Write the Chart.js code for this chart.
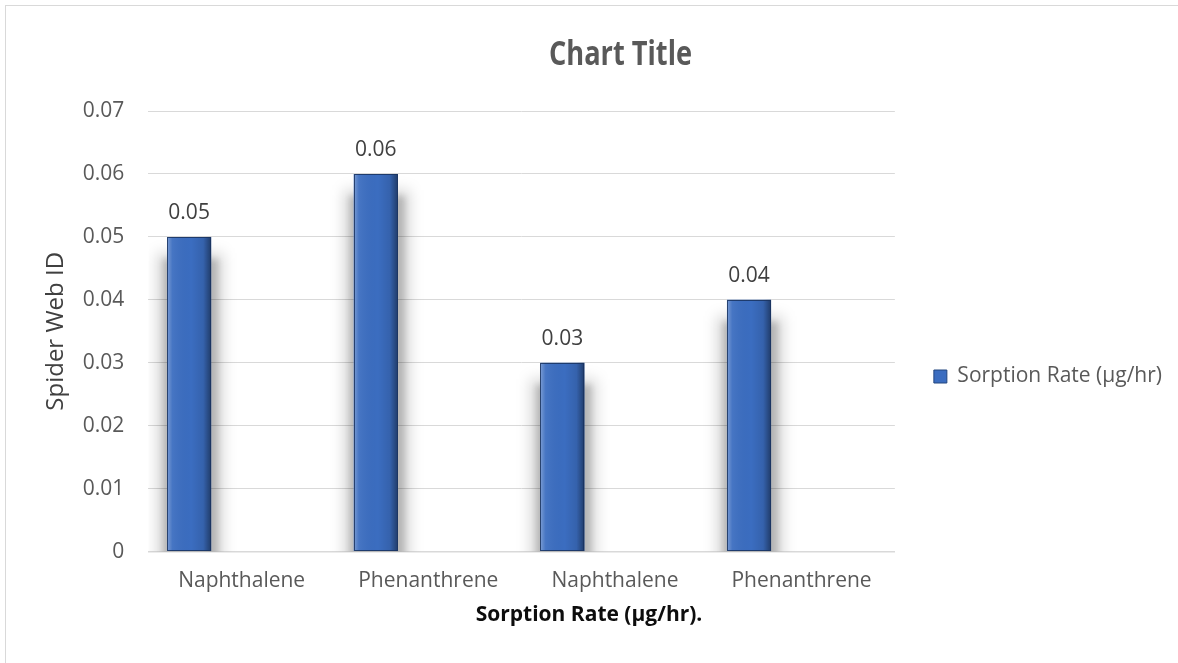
<!DOCTYPE html>
<html>
<head>
<meta charset="utf-8">
<script src="https://cdn.jsdelivr.net/npm/chart.js@4.4.1/dist/chart.umd.min.js"></script>
<style>
  html, body { margin: 0; padding: 0; background: #ffffff; overflow: hidden; }
  #clip { position: absolute; left: 0; top: 0; width: 1178px; height: 663px; overflow: hidden; }
  #frame { position: absolute; left: 5px; top: 5px; width: 1230px; height: 700px;
           border-top: 1px solid #d9d9d9; border-left: 1px solid #d9d9d9; }
  canvas { display: block; }
</style>
</head>
<body>
<div id="clip"><div id="frame"><canvas id="sorptionChart" width="1229" height="657"></canvas></div></div>
<script>
// ── Data ── //
const chartTitle = 'Chart Title';
const categories = ['Naphthalene', 'Phenanthrene', 'Naphthalene', 'Phenanthrene'];
const sorptionRates = [0.05, 0.06, 0.03, 0.04];
const blankSeries = [null, null, null, null]; // empty 2nd series, keeps bars on the left of each slot
const yTickValues = [0, 0.01, 0.02, 0.03, 0.04, 0.05, 0.06, 0.07];
const seriesLabel = 'Sorption Rate (µg/hr)';
const xAxisTitle = 'Sorption Rate (µg/hr).';
const yAxisTitle = 'Spider Web ID';

const FONT = "'Open Sans', 'Noto Sans', sans-serif";
Chart.defaults.font.family = FONT;

// ── Blurred halo behind bars, then shading, outline + value labels ── //
const barStylePlugin = {
  id: 'barStyle',
  beforeDatasetsDraw(chart) {
    const c = chart.ctx;
    const area = chart.chartArea;
    const meta = chart.getDatasetMeta(0);
    c.save();
    c.beginPath();
    c.rect(area.left, area.top, area.right - area.left, area.bottom - area.top);
    c.clip();
    meta.data.forEach((bar) => {
      const { x, y, base, width } = bar.getProps(['x', 'y', 'base', 'width'], true);
      const left = x - width / 2;
      c.filter = 'blur(7px)';
      c.fillStyle = 'rgba(0, 0, 0, 0.16)';
      c.fillRect(left - 10, y + 16, width + 22, base - y);
      c.filter = 'blur(3px)';
      c.fillStyle = 'rgba(0, 0, 0, 0.16)';
      c.fillRect(left - 4, y + 22, width + 11, base - y);
    });
    c.filter = 'none';
    c.restore();
  },
  afterDatasetsDraw(chart) {
    const c = chart.ctx;
    const meta = chart.getDatasetMeta(0);
    meta.data.forEach((bar, i) => {
      const { x, y, base, width } = bar.getProps(['x', 'y', 'base', 'width'], true);
      const left = x - width / 2;
      const g = c.createLinearGradient(left, 0, left + width, 0);
      g.addColorStop(0, 'rgba(255, 255, 255, 0.32)');
      g.addColorStop(0.12, 'rgba(255, 255, 255, 0.06)');
      g.addColorStop(0.55, 'rgba(0, 0, 0, 0)');
      g.addColorStop(0.82, 'rgba(0, 0, 0, 0.10)');
      g.addColorStop(1, 'rgba(0, 0, 0, 0.45)');
      c.save();
      c.fillStyle = g;
      c.fillRect(left, y, width, base - y);
      c.strokeStyle = 'rgba(25, 50, 95, 0.85)';
      c.lineWidth = 1;
      c.strokeRect(Math.round(left) + 0.5, Math.round(y) + 0.5, Math.round(width) - 1, Math.round(base - y) - 1);
      c.restore();

      // value label
      c.save();
      c.font = `21px ${FONT}`;
      c.fillStyle = '#404040';
      c.textAlign = 'center';
      c.textBaseline = 'alphabetic';
      c.fillText(sorptionRates[i].toFixed(2), x, y - 18);
      c.restore();
    });
  },
  afterDraw(chart) {
    // chart title, narrowed to resemble the original face
    const c = chart.ctx;
    c.save();
    c.translate(chart.width / 2, 59);
    c.scale(0.8, 1);
    c.font = `bold 34px ${FONT}`;
    c.fillStyle = '#595959';
    c.textAlign = 'center';
    c.textBaseline = 'alphabetic';
    c.fillText(chartTitle, 0, 0);
    c.restore();
  },
};

new Chart(document.getElementById('sorptionChart'), {
  type: 'bar',
  data: {
    labels: categories,
    datasets: [
      {
        label: seriesLabel,
        data: sorptionRates,
        backgroundColor: '#3b6dc0',
        borderColor: '#23467f',
        borderWidth: 0,
        categoryPercentage: 1.126,
        barPercentage: 0.42,
      },
      {
        label: '',
        data: blankSeries,
        backgroundColor: '#a5a5a5',
        categoryPercentage: 1.126,
        barPercentage: 0.42,
      },
    ],
  },
  options: {
    responsive: false,
    animation: false,
    devicePixelRatio: 1,
    layout: { padding: { top: 105, right: 63, bottom: 35, left: 0 } },
    scales: {
      x: {
        grid: { display: false, drawTicks: false },
        border: { display: true, color: '#d9d9d9', width: 1.5 },
        ticks: {
          color: '#595959',
          font: { size: 21 },
          padding: 17,
          maxRotation: 0,
        },
      },
      y: {
        min: 0,
        max: 0.07,
        afterBuildTicks: (scale) => {
          scale.ticks = yTickValues.map(v => ({ value: v }));
        },
        grid: { color: '#d9d9d9', lineWidth: 1, drawTicks: false },
        border: { display: false },
        ticks: {
          color: '#595959',
          font: { size: 21 },
          padding: 24,
          callback: (v) => (v === 0 ? '0' : Number(v).toFixed(2)),
        },
        title: {
          display: true,
          text: yAxisTitle,
          color: '#404040',
          font: { size: 24 },
          padding: { top: 36, bottom: -12 },
        },
      },
    },
    plugins: {
      title: { display: false },
      subtitle: {
        display: true,
        position: 'bottom',
        text: xAxisTitle,
        color: '#0d0d0d',
        font: { size: 21, weight: 'bold' },
        padding: { top: -8, bottom: 0 },
      },
      legend: {
        position: 'right',
        title: { display: true, text: ' ', font: { size: 10 }, padding: { top: 2, bottom: 0 } },
        labels: {
          generateLabels: (chart) =>
            Chart.defaults.plugins.legend.labels.generateLabels(chart)
              .filter(item => item.datasetIndex === 0)
              .map(item => ({ ...item, lineWidth: 1, strokeStyle: '#23467f' })),
          color: '#595959',
          font: { size: 21 },
          boxWidth: 13,
          boxHeight: 13,
          padding: 39,
        },
      },
      tooltip: { enabled: false },
    },
  },
  plugins: [barStylePlugin],
});
</script>
</body>
</html>
